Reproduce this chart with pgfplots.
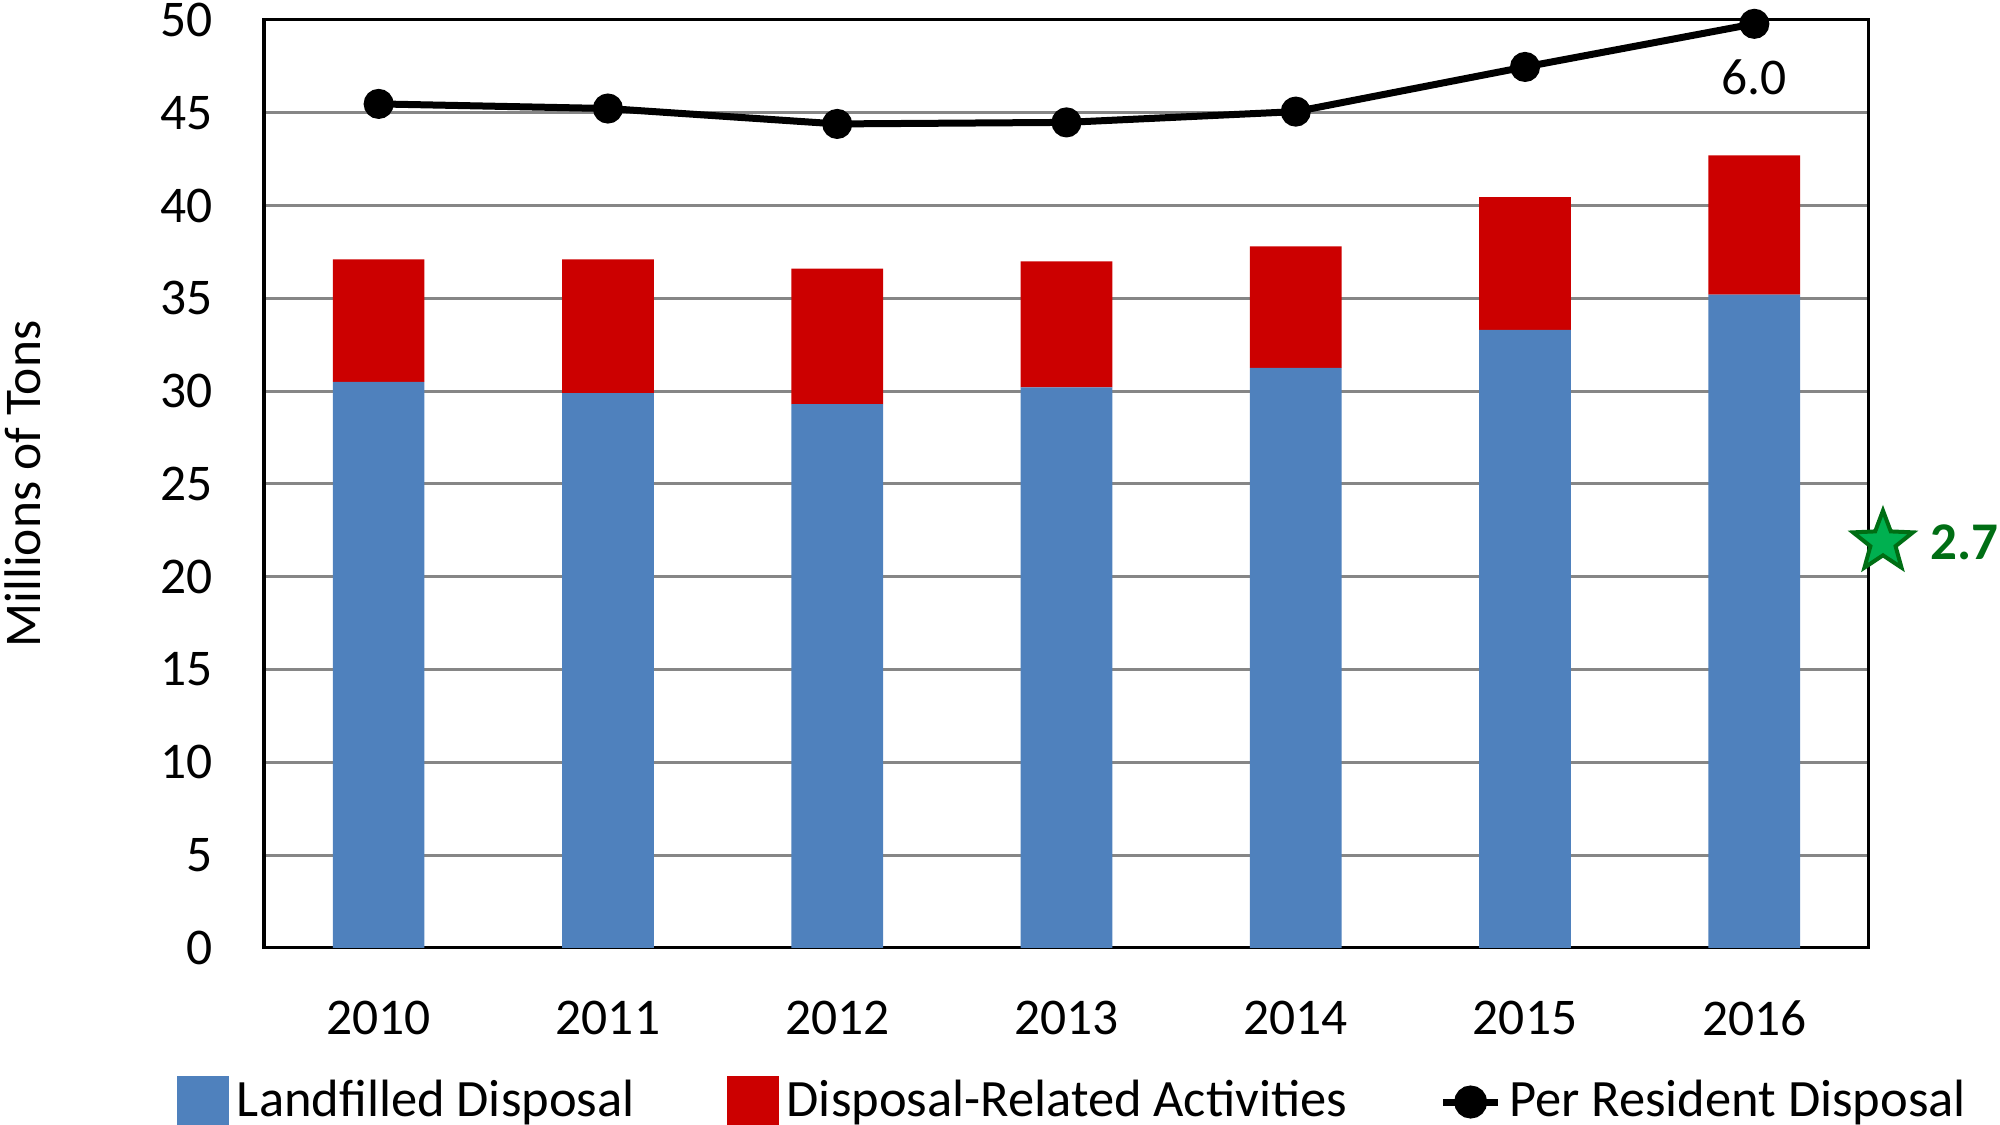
\documentclass[border=0pt]{standalone}
\usepackage{pgfplots}
\pgfplotsset{compat=1.18}
\usepackage{fontspec}
\setmainfont{Carlito}
\definecolor{barblue}{RGB}{79,129,189}
\definecolor{barred}{RGB}{204,0,0}
\definecolor{stargreen}{RGB}{0,176,80}
\definecolor{stardark}{RGB}{0,110,20}
\definecolor{gridgray}{RGB}{134,134,134}
\pgfdeclareplotmark{fstar}{%
  \pgfpathmoveto{\pgfpointpolar{90}{\pgfplotmarksize}}%
  \pgfpathlineto{\pgfpointpolar{126}{0.42\pgfplotmarksize}}%
  \pgfpathlineto{\pgfpointpolar{162}{\pgfplotmarksize}}%
  \pgfpathlineto{\pgfpointpolar{198}{0.42\pgfplotmarksize}}%
  \pgfpathlineto{\pgfpointpolar{234}{\pgfplotmarksize}}%
  \pgfpathlineto{\pgfpointpolar{270}{0.42\pgfplotmarksize}}%
  \pgfpathlineto{\pgfpointpolar{306}{\pgfplotmarksize}}%
  \pgfpathlineto{\pgfpointpolar{342}{0.42\pgfplotmarksize}}%
  \pgfpathlineto{\pgfpointpolar{18}{\pgfplotmarksize}}%
  \pgfpathlineto{\pgfpointpolar{54}{0.42\pgfplotmarksize}}%
  \pgfpathclose
  \pgfusepathqfillstroke}
\begin{document}
\begin{tikzpicture}[font=\fontsize{10.3}{12.4}\selectfont]
\begin{axis}[name=main, scale only axis, width=321pt, height=185.6pt,
  xmin=-0.5, xmax=6.5, ymin=0, ymax=50,
  ytick={0,5,...,50}, xtick={0,...,6},
  xticklabels={2010,2011,2012,2013,2014,2015,2016},
  ymajorgrids, grid style={gridgray, line width=0.6pt},
  major tick length=0pt,
  ybar stacked, bar width=0.4,
  clip=false,
  axis line style={black, line width=0.6pt},
  /pgf/number format/assume math mode=true,
  ylabel={Millions of Tons},
  ylabel style={at={(axis description cs:-0.150,0.5)}, anchor=center},
  yticklabel style={xshift=-6.8pt},
  xticklabel style={yshift=-7.1pt}]
\addplot[fill=barblue, draw=none] coordinates {(0,30.5) (1,29.9) (2,29.3) (3,30.2) (4,31.25) (5,33.3) (6,35.2)};
\addplot[fill=barred, draw=none] coordinates {(0,6.6) (1,7.2) (2,7.3) (3,6.8) (4,6.55) (5,7.15) (6,7.5)};
\end{axis}
\begin{axis}[scale only axis, width=321pt, height=185.6pt,
  xmin=-0.5, xmax=6.5, ymin=0, ymax=6.025,
  hide axis, clip=false,
  legend columns=3,
  legend style={at={(0.5056,-0.166)}, anchor=center, draw=none, fill=none,
    font=\fontsize{10.5}{12.6}\selectfont,
    /tikz/every even column/.append style={column sep=17pt},
    nodes={inner sep=1.5pt}}]
\addlegendimage{legend image code/.code={\fill[barblue] (0pt,-5pt) rectangle (10pt,5pt);}}
\addlegendentry{Landfilled Disposal}
\addlegendimage{legend image code/.code={\fill[barred] (0pt,-5pt) rectangle (10pt,5pt);}}
\addlegendentry{Disposal-Related Activities}
\addplot[black, line width=1.4pt, mark=*, mark size=2.3pt,
  legend image code/.code={\draw[black,line width=1.4pt] (0pt,0pt) -- (11pt,0pt); \fill[black] (5.5pt,0pt) circle (2.6pt);}]
  coordinates {(0,5.48) (1,5.45) (2,5.35) (3,5.36) (4,5.43) (5,5.72) (6,6.00)};
\addlegendentry{Per Resident Disposal}
\node[anchor=north, yshift=-3.7pt] at (axis cs:6,6.0) {6.0};
\addplot[only marks, mark=fstar, mark size=6.3pt, fill=stargreen, draw=stardark, line width=0.8pt, forget plot]
  coordinates {(6.561,2.635)};
\node[anchor=west, xshift=6.0pt, text=stardark, font=\fontsize{10.6}{12.6}\selectfont\bfseries] at (axis cs:6.561,2.635) {2.7};
\end{axis}
\pgfresetboundingbox
\path[use as bounding box] ([shift={(-52.8pt,-35.4pt)}]main.south west) rectangle ([shift={(26.2pt,4pt)}]main.north east);
\end{tikzpicture}
\end{document}
